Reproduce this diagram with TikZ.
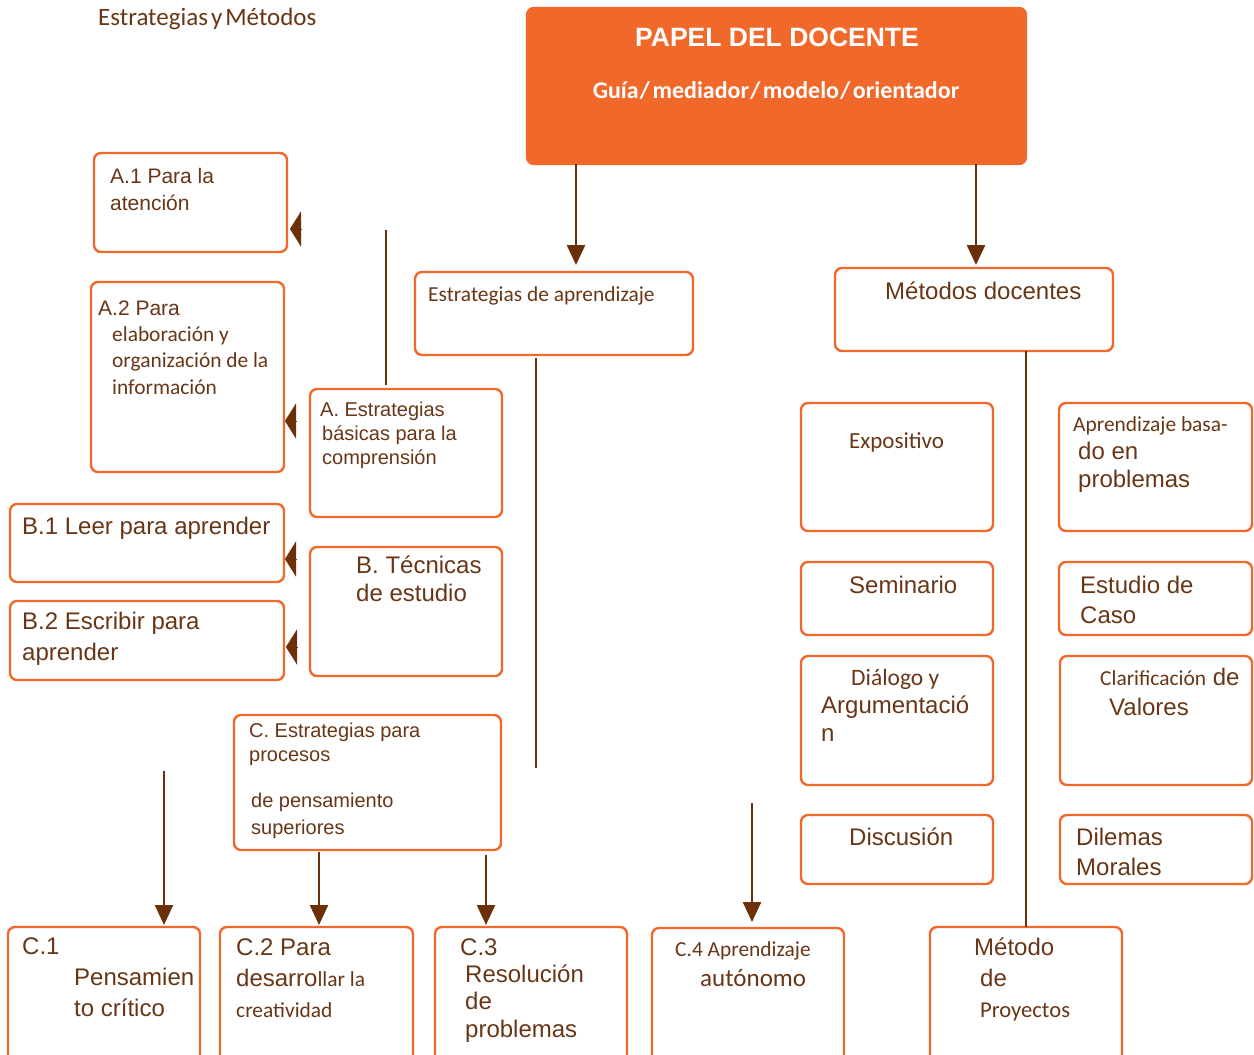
\documentclass[tikz,border=0pt]{standalone}
\usepackage{fontspec}
\setmainfont{Liberation Sans}
\newfontfamily\calibri{Carlito}
\usetikzlibrary{arrows.meta}
\definecolor{naranja}{HTML}{F0692A}
\definecolor{marron}{HTML}{683616}
\definecolor{flechas}{HTML}{6B3007}
\newcommand{\tam}[2]{\fontsize{#1}{#2}\selectfont}
\tikzset{
  caja/.style={draw=naranja, line width=2.4pt, rounded corners=7pt, anchor=north west, inner sep=0pt, outer sep=0pt},
  txt/.style={text=marron, anchor=base west, inner sep=0pt, align=left},
  flecha/.style={draw=flechas, line width=2.4pt, -{Triangle[length=20pt,width=18pt]}},
  linea/.style={draw=flechas, line width=2.4pt},
  punta/.style={draw=flechas, line width=0.1pt, -{Triangle[length=11pt,width=35pt]}},
}
\begin{document}
\begin{tikzpicture}[x=1pt,y=-1pt]
\useasboundingbox (0,0) rectangle (1254,1055);
% titolo
\node[txt, font=\calibri\tam{25}{30}] (tit) at (98,25) {Estrategias\hspace{0.12em}y\hspace{0.12em}Métodos};

% papel del docente
\node[caja, fill=naranja, minimum width=499, minimum height=156] (doc) at (527,8) {};
\node[text=white, anchor=base, inner sep=0pt, font=\bfseries\tam{26.5}{30}] (doc1) at (777,46.5) {PAPEL DEL DOCENTE};
\node[text=white, anchor=base, inner sep=0pt, font=\calibri\bfseries\tam{24}{30}] (doc2) at (776,98) {Guía\hspace{1pt}/\hspace{2.5pt}mediador\hspace{1pt}/\hspace{2.5pt}modelo\hspace{1pt}/\hspace{2.5pt}orientador};

% estrategias / metodos
\node[caja, minimum width=278, minimum height=83] (ea) at (415,272) {};
\node[txt, font=\calibri\tam{21.4}{26}] (ea1) at (428,301) {Estrategias de aprendizaje};
\node[caja, minimum width=278, minimum height=83] (md) at (835,268) {};
\node[txt, font=\tam{24}{30}] (md1) at (885,299) {Métodos docentes};

\draw[flecha, shorten >=7pt] ([xshift=22pt]ea.north |- doc.south) -- ([xshift=22pt]ea.north);
\draw[flecha, shorten >=3pt] ([xshift=2pt]md.north |- doc.south) -- ([xshift=2pt]md.north);

% ramo A
\node[caja, minimum width=193, minimum height=99] (a1) at (94,153) {};
\node[txt, font=\tam{21}{27}] (a1t) at (110,210) {A.1 Para la\\atención};
\node[caja, minimum width=193, minimum height=190] (a2) at (91,282) {};
\node[txt, font=\tam{21}{27}] (a2t) at (98,315) {A.2 Para};
\node[txt, font=\calibri\tam{21.4}{26.7}] (a2u) at (112,394.4) {elaboración y\\organización de la\\información};
\node[caja, minimum width=192, minimum height=128] (ab) at (310,389) {};
\node[txt, font=\tam{20}{24}] (abt) at (320,464) {A. Estrategias\\\hspace{2pt}básicas para la\\\hspace{2pt}comprensión};
\coordinate (ini-a) at (386,230);
\draw[linea, shorten >=4pt] (ini-a) -- (ini-a |- ab.north);

\coordinate (pa1) at (301,229);
\coordinate (pa2) at (296,421);
\draw[punta, shorten >=3pt] (pa1) -- (pa1 -| a1.east);
\draw[punta, shorten >=1pt] (pa2) -- (pa2 -| a2.east);

% ramo B
\node[caja, minimum width=274, minimum height=78] (b1) at (10,504) {};
\node[txt, font=\tam{24}{30}] (b1t) at (22,534) {B.1 Leer para aprender};
\node[caja, minimum width=192, minimum height=129] (bb) at (310,547) {};
\node[txt, font=\tam{24}{28}] (bbt) at (356,601) {B. Técnicas\\de estudio};
\node[caja, minimum width=274, minimum height=79] (b2) at (10,601) {};
\node[txt, font=\tam{24}{31}] (b2t) at (22,660) {B.2 Escribir para\\aprender};

\coordinate (pb1) at (296,559);
\coordinate (pb2) at (297,647);
\draw[punta, shorten >=1pt] (pb1) -- (pb1 -| b1.east);
\draw[punta, shorten >=2pt] (pb2) -- (pb2 -| b2.east);

% ramo C
\node[caja, minimum width=267, minimum height=135] (cc) at (234,715) {};
\node[txt, font=\tam{20}{24}] (cct) at (249,761) {C. Estrategias para\\procesos};
\node[txt, font=\tam{20}{27}] (ccu) at (251,834) {de pensamiento\\superiores};
\draw[linea] ([xshift=-18pt,yshift=-3pt]ea.south) -- (536,768) coordinate (fin-ea);

\node[caja, minimum width=192, minimum height=150] (c1) at (8,927) {};
\node[txt, font=\tam{24}{31}] (c1t) at (22,954) {C.1};
\node[txt, font=\tam{24}{31}] (c1u) at (74,1016) {Pensamien\\to crítico};
\node[caja, minimum width=193, minimum height=150] (c2) at (220,927) {};
\node[txt, font=\tam{24}{31}] (c2t) at (236,1017) {C.2 Para\\desarro{\calibri\tam{21.4}{31}llar la}\\{\calibri\tam{21.4}{31}creatividad}};
\node[caja, minimum width=192, minimum height=150] (c3) at (435,927) {};
\node[txt, font=\tam{24}{27}] (c3t) at (460,955) {C.3};
\node[txt, font=\tam{24}{27.5}] (c3u) at (465,1037) {Resolución\\de\\problemas};
\node[caja, minimum width=192, minimum height=150] (c4) at (652,928) {};
\node[txt, font=\calibri\tam{21.4}{26}] (c4t) at (675,956) {C.4 Aprendizaje};
\node[txt, font=\calibri\tam{25}{30}] (c4u) at (700,986) {autónomo};

\coordinate (ini-c1) at (164,771);
\coordinate (ini-c4) at (752,803);
\draw[flecha, shorten >=2pt] (ini-c1) -- (ini-c1 |- c1.north);
\draw[flecha, shorten >=2pt] ([xshift=2.5pt,yshift=-2pt]c2.north |- cc.south) -- ([xshift=2.5pt]c2.north);
\draw[flecha, shorten >=2pt] ([xshift=-45pt,yshift=-5pt]c3.north |- cc.south) -- ([xshift=-45pt]c3.north);
\draw[flecha, shorten >=6pt] (ini-c4) -- (ini-c4 |- c4.north);

% metodos
\node[caja, minimum width=192, minimum height=150] (mp) at (930,927) {};
\node[txt, font=\tam{24}{31}] (mpt) at (974,955) {Método};
\node[txt, font=\tam{24}{31}] (mpu) at (980,1017) {de\\{\calibri\tam{22.6}{30}Proyectos}};
\draw[linea] (md.south -| mp.north) -- (mp.north);

\node[caja, minimum width=192, minimum height=128] (ex) at (801,403) {};
\node[txt, font=\calibri\tam{23}{30}] (ext) at (849,448) {Expositivo};
\node[caja, minimum width=192, minimum height=73] (se) at (801,562) {};
\node[txt, font=\tam{24}{30}] (set) at (849,593) {Seminario};
\node[caja, minimum width=192, minimum height=129] (di) at (801,656) {};
\node[txt, font=\calibri\tam{23.5}{30}] (dit) at (851,685) {Diálogo y};
\node[txt, font=\tam{24}{28}] (diu) at (821,741) {Argumentació\\n};
\node[caja, minimum width=192, minimum height=69] (dc) at (801,815) {};
\node[txt, font=\tam{24}{30}] (dct) at (849,845) {Discusión};

\node[caja, minimum width=193, minimum height=128] (apb) at (1059,403) {};
\node[txt, font=\calibri\tam{21.4}{28}] (apbt) at (1073,431) {Aprendizaje basa-};
\node[txt, font=\tam{24}{28}] (apbu) at (1078,487) {do en\\problemas};
\node[caja, minimum width=193, minimum height=73] (ec) at (1059,562) {};
\node[txt, font=\tam{24}{30}] (ect) at (1080,623) {Estudio de\\Caso};
\node[caja, minimum width=192, minimum height=129] (cv) at (1060,656) {};
\node[txt, font=\tam{24}{30}] (cvt) at (1100,715) {{\calibri\tam{21.4}{30}Clarificación} de\\\hspace{9pt}Valores};
\node[caja, minimum width=192, minimum height=69] (dm) at (1060,815) {};
\node[txt, font=\tam{24}{30}] (dmt) at (1076,875) {Dilemas\\Morales};
\end{tikzpicture}
\end{document}
